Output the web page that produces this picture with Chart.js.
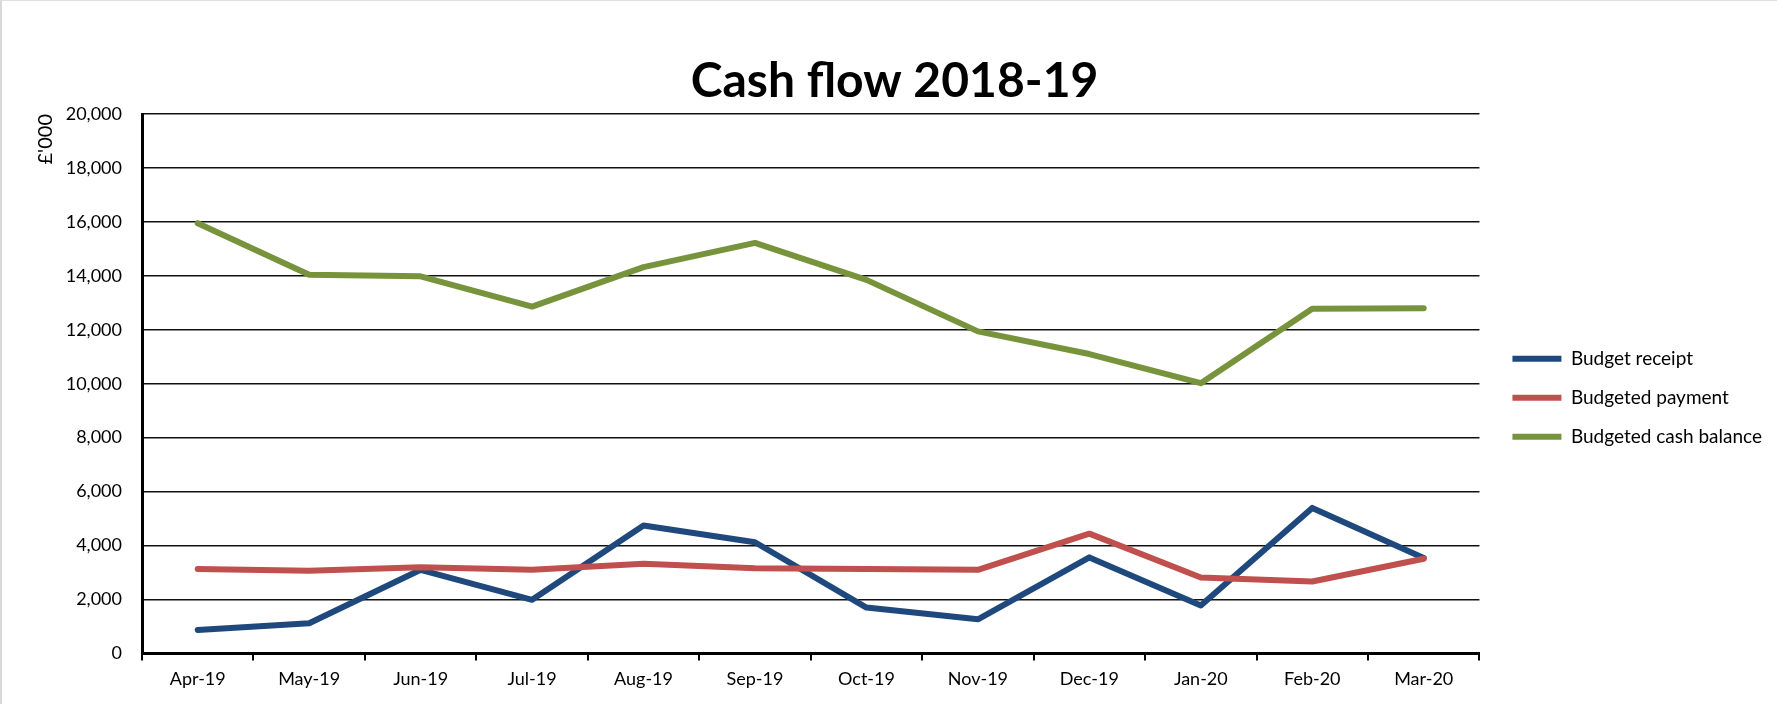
<!DOCTYPE html>
<html>
<head>
<meta charset="utf-8">
<title>Cash flow 2018-19</title>
<script src="https://cdn.jsdelivr.net/npm/chart.js@4.4.1/dist/chart.umd.min.js"></script>
<style>
    html, body { margin: 0; padding: 0; background: #fff; }
    #wrap {
        position: relative; width: 1777px; height: 704px; box-sizing: border-box;
        border-left: 2px solid #d9d9d9; border-top: 1px solid #e0e0e0;
    }
</style>
</head>
<body>
<div id="wrap"><canvas id="myChart"></canvas></div>
<script>
const chartTitle = 'Cash flow 2018-19';
const yAxisTitle = "£'000";
const months = ['Apr-19', 'May-19', 'Jun-19', 'Jul-19', 'Aug-19', 'Sep-19', 'Oct-19', 'Nov-19', 'Dec-19', 'Jan-20', 'Feb-20', 'Mar-20'];
const receipts = [870, 1115, 3100, 1985, 4740, 4120, 1700, 1265, 3560, 1775, 5395, 3535];
const payments = [3125, 3065, 3190, 3100, 3325, 3160, 3125, 3100, 4440, 2815, 2665, 3510];
const balance = [15950, 14040, 13980, 12860, 14320, 15220, 13850, 11940, 11100, 10020, 12780, 12800];
const yTicks = [0, 2000, 4000, 6000, 8000, 10000, 12000, 14000, 16000, 18000, 20000];

Chart.defaults.font.family = 'Lato, "Open Sans", sans-serif';
Chart.defaults.color = '#000';

// order: later series sit on top, as in the spreadsheet
function lineSet(label, data, colour, order) {
    return {
        label: label,
        data: data,
        order: order,
        borderColor: colour,
        backgroundColor: colour,
        borderWidth: 6,
        borderCapStyle: 'round',
        borderJoinStyle: 'round',
        pointRadius: 0,
        pointHoverRadius: 0,
        tension: 0,
        fill: false
    };
}

const ctx = document.getElementById('myChart').getContext('2d');
const myChart = new Chart(ctx, {
    type: 'line',
    data: {
        labels: months,
        datasets: [
            lineSet('Budget receipt', receipts, '#1F497D', 3),
            lineSet('Budgeted payment', payments, '#C0504D', 2),
            lineSet('Budgeted cash balance', balance, '#77933C', 1)
        ]
    },
    options: {
        responsive: true,
        maintainAspectRatio: false,
        animation: false,
        layout: {
            padding: { top: 0, left: 15, right: 5, bottom: 6 }
        },
        plugins: {
            title: {
                display: true,
                text: chartTitle,
                color: '#000',
                font: { size: 48, weight: 'bold', lineHeight: 1.0 },
                padding: { top: 57, bottom: 8 }
            },
            tooltip: { enabled: false },
            legend: {
                position: 'right',
                align: 'center',
                fullSize: false,
                title: { display: true, text: ' ', font: { size: 10 }, padding: 8 },
                labels: {
                    usePointStyle: true,
                    pointStyle: 'line',
                    pointStyleWidth: 49,
                    padding: 20,
                    color: '#000',
                    font: { size: 19 },
                    sort: (a, b) => a.datasetIndex - b.datasetIndex
                }
            }
        },
        scales: {
            x: {
                offset: true,
                grid: {
                    offset: true,
                    drawOnChartArea: false,
                    drawTicks: true,
                    tickLength: 7,
                    color: '#000',
                    lineWidth: 2
                },
                border: { display: true, color: '#000', width: 3 },
                ticks: { padding: 8, font: { size: 18 }, maxRotation: 0, autoSkip: false }
            },
            y: {
                min: 0,
                max: 20000,
                afterBuildTicks: axis => { axis.ticks = yTicks.map(v => ({ value: v })); },
                afterFit: axis => { axis.width = 125; },
                grid: { color: '#111', lineWidth: 1.5, drawTicks: false },
                border: { display: true, color: '#000', width: 3 },
                ticks: {
                    padding: 20,
                    font: { size: 18 },
                    callback: v => v.toLocaleString('en-GB')
                },
                title: {
                    display: true,
                    text: yAxisTitle,
                    align: 'end',
                    font: { size: 20 },
                    padding: { top: 17, bottom: 0 }
                }
            },
            // empty spacer between plot and legend
            gap: {
                position: 'right',
                display: true,
                afterFit: axis => { axis.width = 13; },
                grid: { display: false },
                border: { display: false },
                ticks: { display: false }
            }
        }
    }
});
</script>
</body>
</html>
